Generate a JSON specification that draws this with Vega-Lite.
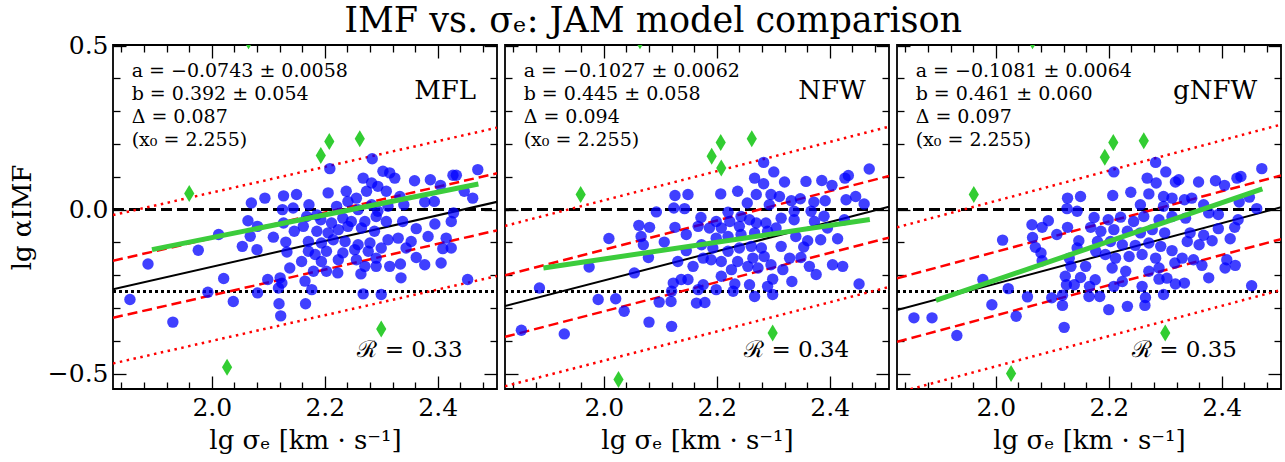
{
"$schema":"https://vega.github.io/schema/vega-lite/v6.json",
"background":"white",
"padding":{"left":8,"top":3,"right":0,"bottom":0},
"title":{"text":"IMF vs. σₑ: JAM model comparison","font":"DejaVu Serif","fontSize":35,"fontWeight":"normal","anchor":"middle","offset":-6,"dx":5,"color":"black"},
"spacing":8,
"bounds":"flush",
"datasets":{
"refs":[{"k":"zero","x":1.825,"y":0},{"k":"zero","x":2.505,"y":0},{"k":"chab","x":1.825,"y":-0.25},{"k":"chab","x":2.505,"y":-0.25}],
"lines":[
{"m":"MFL","k":"fit","x":1.825,"y":-0.2429},{"m":"MFL","k":"fit","x":2.505,"y":0.0237},
{"m":"MFL","k":"d1","x":1.825,"y":-0.1559},{"m":"MFL","k":"d1","x":2.505,"y":0.1107},
{"m":"MFL","k":"d2","x":1.825,"y":-0.3299},{"m":"MFL","k":"d2","x":2.505,"y":-0.0633},
{"m":"MFL","k":"o1","x":1.825,"y":-0.0167},{"m":"MFL","k":"o1","x":2.505,"y":0.2499},
{"m":"MFL","k":"o2","x":1.825,"y":-0.4691},{"m":"MFL","k":"o2","x":2.505,"y":-0.2025},
{"m":"MFL","k":"g","x":1.894,"y":-0.122},{"m":"MFL","k":"g","x":2.472,"y":0.078},
{"m":"NFW","k":"fit","x":1.825,"y":-0.2941},{"m":"NFW","k":"fit","x":2.505,"y":0.0086},
{"m":"NFW","k":"d1","x":1.825,"y":-0.2001},{"m":"NFW","k":"d1","x":2.505,"y":0.1026},
{"m":"NFW","k":"d2","x":1.825,"y":-0.3881},{"m":"NFW","k":"d2","x":2.505,"y":-0.0855},
{"m":"NFW","k":"o1","x":1.825,"y":-0.0497},{"m":"NFW","k":"o1","x":2.505,"y":0.2530},
{"m":"NFW","k":"o2","x":1.825,"y":-0.5385},{"m":"NFW","k":"o2","x":2.505,"y":-0.2359},
{"m":"NFW","k":"g","x":1.893,"y":-0.178},{"m":"NFW","k":"g","x":2.471,"y":-0.030},
{"m":"gNFW","k":"fit","x":1.825,"y":-0.3063},{"m":"gNFW","k":"fit","x":2.505,"y":0.0072},
{"m":"gNFW","k":"d1","x":1.825,"y":-0.2093},{"m":"gNFW","k":"d1","x":2.505,"y":0.1042},
{"m":"gNFW","k":"d2","x":1.825,"y":-0.4033},{"m":"gNFW","k":"d2","x":2.505,"y":-0.0899},
{"m":"gNFW","k":"o1","x":1.825,"y":-0.0541},{"m":"gNFW","k":"o1","x":2.505,"y":0.2594},
{"m":"gNFW","k":"o2","x":1.825,"y":-0.5585},{"m":"gNFW","k":"o2","x":2.505,"y":-0.2451},
{"m":"gNFW","k":"g","x":1.894,"y":-0.277},{"m":"gNFW","k":"g","x":2.472,"y":0.063}
],
"out":[
{"m":"MFL","x":2.065,"y":0.515},{"m":"MFL","x":1.960,"y":0.049},{"m":"MFL","x":2.193,"y":0.165},{"m":"MFL","x":2.208,"y":0.208},{"m":"MFL","x":2.262,"y":0.216},{"m":"MFL","x":2.300,"y":-0.364},{"m":"MFL","x":2.027,"y":-0.481},
{"m":"NFW","x":2.064,"y":0.515},{"m":"NFW","x":1.959,"y":0.046},{"m":"NFW","x":2.191,"y":0.163},{"m":"NFW","x":2.207,"y":0.205},{"m":"NFW","x":2.208,"y":0.127},{"m":"NFW","x":2.262,"y":0.216},{"m":"NFW","x":2.299,"y":-0.376},{"m":"NFW","x":2.026,"y":-0.518},
{"m":"gNFW","x":2.065,"y":0.515},{"m":"gNFW","x":1.961,"y":0.046},{"m":"gNFW","x":2.193,"y":0.160},{"m":"gNFW","x":2.208,"y":0.205},{"m":"gNFW","x":2.262,"y":0.210},{"m":"gNFW","x":2.300,"y":-0.376},{"m":"gNFW","x":2.027,"y":-0.500}
],
"stats":[
{"m":"MFL","x":1.858,"y":0.422,"t":"a = −0.0743 ± 0.0058"},{"m":"MFL","x":1.858,"y":0.354,"t":"b = 0.392 ± 0.054"},{"m":"MFL","x":1.858,"y":0.282,"t":"Δ = 0.087"},{"m":"MFL","x":1.858,"y":0.211,"t":"(x₀ = 2.255)"},
{"m":"NFW","x":1.858,"y":0.422,"t":"a = −0.1027 ± 0.0062"},{"m":"NFW","x":1.858,"y":0.354,"t":"b = 0.445 ± 0.058"},{"m":"NFW","x":1.858,"y":0.282,"t":"Δ = 0.094"},{"m":"NFW","x":1.858,"y":0.211,"t":"(x₀ = 2.255)"},
{"m":"gNFW","x":1.858,"y":0.422,"t":"a = −0.1081 ± 0.0064"},{"m":"gNFW","x":1.858,"y":0.354,"t":"b = 0.461 ± 0.060"},{"m":"gNFW","x":1.858,"y":0.282,"t":"Δ = 0.097"},{"m":"gNFW","x":1.858,"y":0.211,"t":"(x₀ = 2.255)"}
],
"names":[{"m":"MFL","x":2.468,"y":0.361,"t":"MFL"},{"m":"NFW","x":2.464,"y":0.361,"t":"NFW"},{"m":"gNFW","x":2.463,"y":0.361,"t":"gNFW"}],
"rs":[{"m":"MFL","x":2.444,"y":-0.427,"t":"ℛ = 0.33"},{"m":"NFW","x":2.4345,"y":-0.427,"t":"ℛ = 0.34"},{"m":"gNFW","x":2.427,"y":-0.427,"t":"ℛ = 0.35"}],
"mfl":[{"x":2.209,"y":0.125},{"x":2.284,"y":0.155},{"x":2.206,"y":0.051},{"x":2.070,"y":0.020},{"x":2.094,"y":0.035},{"x":2.127,"y":0.042},{"x":2.150,"y":0.046},{"x":2.125,"y":0.000},{"x":2.144,"y":0.005},{"x":2.172,"y":0.015},{"x":2.064,"y":-0.034},{"x":2.081,"y":-0.051},{"x":2.068,"y":-0.081},{"x":2.054,"y":-0.112},{"x":2.080,"y":-0.122},{"x":2.109,"y":-0.084},{"x":2.131,"y":-0.099},{"x":2.127,"y":-0.041},{"x":2.146,"y":-0.066},{"x":2.133,"y":-0.129},{"x":2.159,"y":-0.158},{"x":2.138,"y":-0.178},{"x":2.180,"y":-0.188},{"x":2.099,"y":-0.213},{"x":2.121,"y":-0.208},{"x":2.124,"y":-0.224},{"x":2.118,"y":-0.239},{"x":2.165,"y":-0.218},{"x":2.177,"y":-0.244},{"x":2.081,"y":-0.254},{"x":2.038,"y":-0.280},{"x":2.119,"y":-0.287},{"x":2.166,"y":-0.287},{"x":2.122,"y":-0.324},{"x":2.268,"y":-0.257},{"x":2.300,"y":-0.259},{"x":2.264,"y":-0.196},{"x":2.335,"y":-0.208},{"x":2.453,"y":-0.213},{"x":2.406,"y":-0.163},{"x":2.377,"y":-0.168},{"x":2.291,"y":-0.173},{"x":2.315,"y":-0.173},{"x":2.334,"y":-0.166},{"x":2.424,"y":-0.117},{"x":2.409,"y":-0.119},{"x":2.415,"y":-0.087},{"x":2.383,"y":-0.082},{"x":2.424,"y":-0.036},{"x":2.395,"y":-0.044},{"x":2.362,"y":-0.058},{"x":2.338,"y":-0.036},{"x":2.340,"y":0.015},{"x":2.377,"y":0.023},{"x":2.394,"y":0.025},{"x":2.428,"y":-0.010},{"x":2.462,"y":0.035},{"x":2.447,"y":0.056},{"x":2.471,"y":0.122},{"x":2.427,"y":0.105},{"x":2.433,"y":0.105},{"x":2.387,"y":0.091},{"x":2.405,"y":0.074},{"x":2.359,"y":0.088},{"x":2.333,"y":0.040},{"x":2.324,"y":0.096},{"x":2.315,"y":0.112},{"x":2.303,"y":0.117},{"x":2.268,"y":0.096},{"x":2.283,"y":0.081},{"x":2.294,"y":0.071},{"x":2.274,"y":0.056},{"x":2.309,"y":0.056},{"x":2.238,"y":0.056},{"x":2.256,"y":0.035},{"x":2.221,"y":0.010},{"x":2.241,"y":0.025},{"x":2.259,"y":0.000},{"x":2.294,"y":-0.005},{"x":2.312,"y":0.010},{"x":2.283,"y":0.015},{"x":2.193,"y":-0.031},{"x":2.212,"y":-0.041},{"x":2.232,"y":-0.026},{"x":2.247,"y":-0.036},{"x":2.271,"y":-0.036},{"x":2.291,"y":-0.021},{"x":2.309,"y":-0.036},{"x":2.186,"y":-0.066},{"x":2.206,"y":-0.071},{"x":2.224,"y":-0.061},{"x":2.241,"y":-0.051},{"x":2.265,"y":-0.056},{"x":2.288,"y":-0.066},{"x":2.171,"y":-0.097},{"x":2.194,"y":-0.102},{"x":2.215,"y":-0.092},{"x":2.236,"y":-0.097},{"x":2.259,"y":-0.107},{"x":2.280,"y":-0.102},{"x":2.312,"y":-0.092},{"x":2.330,"y":-0.087},{"x":2.353,"y":-0.097},{"x":2.344,"y":-0.117},{"x":2.300,"y":-0.117},{"x":2.277,"y":-0.127},{"x":2.253,"y":-0.122},{"x":2.232,"y":-0.132},{"x":2.203,"y":-0.127},{"x":2.183,"y":-0.137},{"x":2.194,"y":-0.158},{"x":2.224,"y":-0.153},{"x":2.256,"y":-0.153},{"x":2.291,"y":-0.148},{"x":2.362,"y":-0.146},{"x":2.203,"y":-0.188},{"x":2.223,"y":-0.193},{"x":2.271,"y":-0.173},{"x":2.171,"y":-0.127},{"x":2.162,"y":-0.051},{"x":2.168,"y":-0.021},{"x":2.186,"y":-0.016},{"x":1.855,"y":-0.274},{"x":1.887,"y":-0.166},{"x":1.931,"y":-0.343},{"x":1.976,"y":-0.124},{"x":2.012,"y":-0.076},{"x":1.993,"y":-0.252},{"x":2.021,"y":-0.210}],
"nfw":[{"x":2.283,"y":0.144},{"x":2.301,"y":0.115},{"x":2.267,"y":0.096},{"x":2.283,"y":0.079},{"x":2.320,"y":0.084},{"x":2.358,"y":0.086},{"x":2.386,"y":0.089},{"x":2.404,"y":0.074},{"x":2.427,"y":0.096},{"x":2.433,"y":0.104},{"x":2.470,"y":0.124},{"x":2.446,"y":0.040},{"x":2.429,"y":0.030},{"x":2.461,"y":0.017},{"x":2.207,"y":0.048},{"x":2.237,"y":0.056},{"x":2.126,"y":0.043},{"x":2.149,"y":0.046},{"x":2.124,"y":0.005},{"x":2.093,"y":-0.007},{"x":2.143,"y":0.003},{"x":2.220,"y":-0.008},{"x":2.254,"y":0.020},{"x":2.270,"y":0.046},{"x":2.296,"y":0.046},{"x":2.311,"y":0.040},{"x":2.293,"y":0.015},{"x":2.332,"y":0.027},{"x":2.348,"y":0.033},{"x":2.372,"y":0.023},{"x":2.392,"y":0.027},{"x":2.367,"y":-0.005},{"x":2.390,"y":-0.020},{"x":2.337,"y":-0.031},{"x":2.426,"y":-0.031},{"x":2.414,"y":-0.089},{"x":2.384,"y":-0.092},{"x":2.361,"y":-0.095},{"x":2.340,"y":-0.082},{"x":2.354,"y":-0.114},{"x":2.349,"y":-0.146},{"x":2.364,"y":-0.173},{"x":2.376,"y":-0.198},{"x":2.405,"y":-0.168},{"x":2.423,"y":-0.173},{"x":2.452,"y":-0.227},{"x":2.333,"y":-0.219},{"x":2.317,"y":-0.183},{"x":2.329,"y":-0.148},{"x":2.299,"y":-0.212},{"x":2.290,"y":-0.234},{"x":2.299,"y":-0.259},{"x":2.267,"y":-0.265},{"x":2.258,"y":-0.229},{"x":2.232,"y":-0.227},{"x":2.229,"y":-0.249},{"x":2.199,"y":-0.244},{"x":2.208,"y":-0.203},{"x":2.226,"y":-0.183},{"x":2.179,"y":-0.283},{"x":2.164,"y":-0.285},{"x":2.167,"y":-0.244},{"x":2.176,"y":-0.229},{"x":2.149,"y":-0.213},{"x":2.137,"y":-0.213},{"x":2.123,"y":-0.224},{"x":2.120,"y":-0.249},{"x":2.119,"y":-0.280},{"x":2.098,"y":-0.282},{"x":2.036,"y":-0.310},{"x":2.080,"y":-0.343},{"x":2.120,"y":-0.356},{"x":2.054,"y":-0.193},{"x":2.079,"y":-0.146},{"x":2.131,"y":-0.158},{"x":2.158,"y":-0.173},{"x":2.146,"y":-0.125},{"x":2.107,"y":-0.099},{"x":2.070,"y":-0.107},{"x":2.066,"y":-0.082},{"x":2.062,"y":-0.048},{"x":2.081,"y":-0.054},{"x":2.126,"y":-0.054},{"x":2.146,"y":-0.076},{"x":2.172,"y":-0.024},{"x":2.167,"y":-0.051},{"x":2.187,"y":-0.056},{"x":2.199,"y":-0.036},{"x":2.208,"y":-0.056},{"x":2.223,"y":-0.036},{"x":2.240,"y":-0.051},{"x":2.258,"y":-0.031},{"x":2.270,"y":-0.041},{"x":2.287,"y":-0.041},{"x":2.305,"y":-0.056},{"x":2.290,"y":-0.066},{"x":2.267,"y":-0.071},{"x":2.243,"y":-0.076},{"x":2.220,"y":-0.082},{"x":2.199,"y":-0.087},{"x":2.173,"y":-0.107},{"x":2.193,"y":-0.117},{"x":2.220,"y":-0.127},{"x":2.240,"y":-0.117},{"x":2.261,"y":-0.112},{"x":2.279,"y":-0.117},{"x":2.314,"y":-0.112},{"x":2.284,"y":-0.143},{"x":2.264,"y":-0.148},{"x":2.237,"y":-0.158},{"x":2.208,"y":-0.158},{"x":2.190,"y":-0.153},{"x":2.176,"y":-0.148},{"x":2.255,"y":-0.173},{"x":2.273,"y":-0.178},{"x":2.296,"y":-0.168},{"x":2.337,"y":-0.005},{"x":2.373,"y":-0.036},{"x":2.396,"y":-0.056},{"x":2.314,"y":-0.026},{"x":2.243,"y":-0.021},{"x":1.854,"y":-0.368},{"x":1.886,"y":-0.239},{"x":1.930,"y":-0.379},{"x":1.974,"y":-0.175},{"x":1.990,"y":-0.274},{"x":2.009,"y":-0.088},{"x":2.021,"y":-0.272}],
"gnfw":[{"x":2.283,"y":0.144},{"x":2.301,"y":0.115},{"x":2.268,"y":0.096},{"x":2.284,"y":0.081},{"x":2.318,"y":0.084},{"x":2.324,"y":0.091},{"x":2.359,"y":0.084},{"x":2.389,"y":0.088},{"x":2.405,"y":0.074},{"x":2.427,"y":0.096},{"x":2.434,"y":0.101},{"x":2.471,"y":0.125},{"x":2.449,"y":0.038},{"x":2.431,"y":0.023},{"x":2.462,"y":0.003},{"x":2.209,"y":0.115},{"x":2.207,"y":0.043},{"x":2.239,"y":0.053},{"x":2.127,"y":0.035},{"x":2.150,"y":0.040},{"x":2.126,"y":0.003},{"x":2.144,"y":-0.005},{"x":2.093,"y":-0.034},{"x":2.064,"y":-0.046},{"x":2.082,"y":-0.054},{"x":2.065,"y":-0.085},{"x":2.070,"y":-0.115},{"x":2.080,"y":-0.132},{"x":2.082,"y":-0.156},{"x":2.108,"y":-0.076},{"x":2.127,"y":-0.054},{"x":2.147,"y":-0.095},{"x":2.144,"y":-0.117},{"x":2.130,"y":-0.148},{"x":2.133,"y":-0.173},{"x":2.159,"y":-0.173},{"x":2.150,"y":-0.207},{"x":2.123,"y":-0.203},{"x":2.125,"y":-0.229},{"x":2.139,"y":-0.229},{"x":2.118,"y":-0.261},{"x":2.118,"y":-0.292},{"x":2.099,"y":-0.269},{"x":2.056,"y":-0.266},{"x":2.036,"y":-0.325},{"x":2.121,"y":-0.359},{"x":2.166,"y":-0.234},{"x":2.176,"y":-0.214},{"x":2.165,"y":-0.265},{"x":2.184,"y":-0.265},{"x":2.200,"y":-0.305},{"x":2.209,"y":-0.234},{"x":2.233,"y":-0.295},{"x":2.224,"y":-0.219},{"x":2.230,"y":-0.188},{"x":2.259,"y":-0.234},{"x":2.265,"y":-0.268},{"x":2.264,"y":-0.292},{"x":2.297,"y":-0.259},{"x":2.318,"y":-0.227},{"x":2.334,"y":-0.224},{"x":2.289,"y":-0.212},{"x":2.303,"y":-0.209},{"x":2.271,"y":-0.188},{"x":2.377,"y":-0.208},{"x":2.406,"y":-0.178},{"x":2.424,"y":-0.170},{"x":2.409,"y":-0.153},{"x":2.453,"y":-0.232},{"x":2.365,"y":-0.170},{"x":2.350,"y":-0.153},{"x":2.330,"y":-0.148},{"x":2.312,"y":-0.125},{"x":2.317,"y":-0.163},{"x":2.415,"y":-0.089},{"x":2.383,"y":-0.095},{"x":2.360,"y":-0.107},{"x":2.339,"y":-0.097},{"x":2.344,"y":-0.071},{"x":2.368,"y":-0.078},{"x":2.394,"y":-0.058},{"x":2.423,"y":-0.054},{"x":2.429,"y":-0.031},{"x":2.394,"y":-0.015},{"x":2.377,"y":-0.010},{"x":2.368,"y":0.015},{"x":2.347,"y":0.035},{"x":2.334,"y":0.030},{"x":2.312,"y":0.035},{"x":2.297,"y":0.040},{"x":2.271,"y":0.048},{"x":2.256,"y":0.015},{"x":2.297,"y":0.010},{"x":2.336,"y":-0.026},{"x":2.312,"y":-0.021},{"x":2.289,"y":-0.031},{"x":2.262,"y":-0.021},{"x":2.244,"y":-0.036},{"x":2.221,"y":-0.023},{"x":2.199,"y":-0.031},{"x":2.174,"y":-0.024},{"x":2.168,"y":-0.054},{"x":2.186,"y":-0.066},{"x":2.209,"y":-0.061},{"x":2.233,"y":-0.066},{"x":2.256,"y":-0.071},{"x":2.277,"y":-0.061},{"x":2.299,"y":-0.071},{"x":2.180,"y":-0.097},{"x":2.203,"y":-0.097},{"x":2.224,"y":-0.107},{"x":2.247,"y":-0.109},{"x":2.271,"y":-0.102},{"x":2.292,"y":-0.112},{"x":2.194,"y":-0.137},{"x":2.212,"y":-0.148},{"x":2.236,"y":-0.143},{"x":2.259,"y":-0.137},{"x":2.283,"y":-0.148},{"x":2.206,"y":-0.178},{"x":2.289,"y":-0.178},{"x":2.177,"y":-0.127},{"x":1.855,"y":-0.330},{"x":1.887,"y":-0.330},{"x":1.931,"y":-0.384},{"x":1.977,"y":-0.213},{"x":1.993,"y":-0.290},{"x":2.012,"y":-0.093},{"x":2.022,"y":-0.241}]
},
"hconcat":[
{"width":384,"height":344,
"encoding":{"x":{"field":"x","type":"quantitative","scale":{"domain":[1.825,2.505],"nice":false,"zero":false},"axis":null},"y":{"field":"y","type":"quantitative","scale":{"domain":[-0.547,0.502],"nice":false,"zero":false},"axis":null}},
"layer":[
{"data":{"name":"refs"},"transform":[{"filter":"datum.k=='zero'"}],"mark":{"type":"line","color":"black","strokeWidth":3,"strokeDash":[11,5]},
"encoding":{"x":{"field":"x","type":"quantitative","scale":{"domain":[1.825,2.505],"nice":false,"zero":false},"axis":{"orient":"top","values":[1.84,1.88,1.92,1.96,2.0,2.04,2.08,2.12,2.16,2.2,2.24,2.28,2.32,2.36,2.4,2.44,2.48],"tickSize":{"condition":{"test":"abs(datum.value*5-round(datum.value*5))<0.001","value":-13},"value":-7},"labels":false,"title":null}},"y":{"field":"y","type":"quantitative","scale":{"domain":[-0.547,0.502],"nice":false,"zero":false},"axis":{"orient":"right","values":[-0.5,-0.4,-0.3,-0.2,-0.1,0,0.1,0.2,0.3,0.4,0.5],"tickSize":{"condition":{"test":"abs(datum.value*2-round(datum.value*2))<0.001","value":-13},"value":-7},"labels":false,"title":null}}}},
{"data":{"name":"refs"},"transform":[{"filter":"datum.k=='chab'"}],"mark":{"type":"line","color":"black","strokeWidth":3,"strokeDash":[3,3]}},
{"data":{"name":"lines"},"transform":[{"filter":"datum.m=='MFL' && (datum.k=='o1' || datum.k=='o2')"}],"mark":{"type":"line","color":"#ff0000","strokeWidth":2.5,"strokeDash":[2.5,4.5],"clip":true},"encoding":{"detail":{"field":"k"}}},
{"data":{"name":"lines"},"transform":[{"filter":"datum.m=='MFL' && (datum.k=='d1' || datum.k=='d2')"}],"mark":{"type":"line","color":"#ff0000","strokeWidth":2.5,"strokeDash":[10,5],"clip":true},"encoding":{"detail":{"field":"k"}}},
{"data":{"name":"lines"},"transform":[{"filter":"datum.m=='MFL' && datum.k=='fit'"}],"mark":{"type":"line","color":"black","strokeWidth":2,"clip":true}},
{"data":{"name":"mfl"},"mark":{"type":"circle","size":130,"color":"#0000ff","opacity":0.75},
"encoding":{"x":{"field":"x","type":"quantitative","scale":{"domain":[1.825,2.505],"nice":false,"zero":false},"axis":{"orient":"bottom","values":[1.84,1.88,1.92,1.96,2.0,2.04,2.08,2.12,2.16,2.2,2.24,2.28,2.32,2.36,2.4,2.44,2.48],"tickSize":{"condition":{"test":"abs(datum.value*5-round(datum.value*5))<0.001","value":-13},"value":-7},"labelPadding":19,"titlePadding":1,"labelExpr":"abs(datum.value*5-round(datum.value*5))<0.001 ? format(datum.value,'.1f') : ''","title":"lg σₑ [km · s⁻¹]"}},"y":{"field":"y","type":"quantitative","scale":{"domain":[-0.547,0.502],"nice":false,"zero":false},"axis":{"orient":"left","values":[-0.5,-0.4,-0.3,-0.2,-0.1,0,0.1,0.2,0.3,0.4,0.5],"tickSize":{"condition":{"test":"abs(datum.value*2-round(datum.value*2))<0.001","value":-13},"value":-7},"labelPadding":18,"titlePadding":12,"labelExpr":"abs(datum.value*2-round(datum.value*2))<0.001 ? format(datum.value,'.1f') : ''","title":"lg αIMF"}}}},
{"data":{"name":"out"},"transform":[{"filter":"datum.m=='MFL'"}],"mark":{"type":"point","shape":"M0,-1L0.6,0L0,1L-0.6,0Z","filled":true,"size":289,"color":"#32cd32","opacity":1,"clip":true}},
{"data":{"name":"lines"},"transform":[{"filter":"datum.m=='MFL' && datum.k=='g'"}],"mark":{"type":"line","color":"#3ccc3c","strokeWidth":5}},
{"data":{"name":"stats"},"transform":[{"filter":"datum.m=='MFL'"}],"mark":{"type":"text","align":"left","baseline":"middle","fontSize":19,"font":"DejaVu Serif","color":"black"},"encoding":{"text":{"field":"t"}}},
{"data":{"name":"names"},"transform":[{"filter":"datum.m=='MFL'"}],"mark":{"type":"text","align":"right","baseline":"middle","fontSize":26,"font":"DejaVu Serif","color":"black"},"encoding":{"text":{"field":"t"}}},
{"data":{"name":"rs"},"transform":[{"filter":"datum.m=='MFL'"}],"mark":{"type":"text","align":"right","baseline":"middle","fontSize":23,"font":"DejaVu Serif","color":"black"},"encoding":{"text":{"field":"t"}}}
],
"resolve":{"axis":{"x":"independent","y":"independent"}}},
{"width":384,"height":344,
"encoding":{"x":{"field":"x","type":"quantitative","scale":{"domain":[1.825,2.505],"nice":false,"zero":false},"axis":null},"y":{"field":"y","type":"quantitative","scale":{"domain":[-0.547,0.502],"nice":false,"zero":false},"axis":null}},
"layer":[
{"data":{"name":"refs"},"transform":[{"filter":"datum.k=='zero'"}],"mark":{"type":"line","color":"black","strokeWidth":3,"strokeDash":[11,5]},
"encoding":{"x":{"field":"x","type":"quantitative","scale":{"domain":[1.825,2.505],"nice":false,"zero":false},"axis":{"orient":"top","values":[1.84,1.88,1.92,1.96,2.0,2.04,2.08,2.12,2.16,2.2,2.24,2.28,2.32,2.36,2.4,2.44,2.48],"tickSize":{"condition":{"test":"abs(datum.value*5-round(datum.value*5))<0.001","value":-13},"value":-7},"labels":false,"title":null}},"y":{"field":"y","type":"quantitative","scale":{"domain":[-0.547,0.502],"nice":false,"zero":false},"axis":{"orient":"right","values":[-0.5,-0.4,-0.3,-0.2,-0.1,0,0.1,0.2,0.3,0.4,0.5],"tickSize":{"condition":{"test":"abs(datum.value*2-round(datum.value*2))<0.001","value":-13},"value":-7},"labels":false,"title":null}}}},
{"data":{"name":"refs"},"transform":[{"filter":"datum.k=='chab'"}],"mark":{"type":"line","color":"black","strokeWidth":3,"strokeDash":[3,3]}},
{"data":{"name":"lines"},"transform":[{"filter":"datum.m=='NFW' && (datum.k=='o1' || datum.k=='o2')"}],"mark":{"type":"line","color":"#ff0000","strokeWidth":2.5,"strokeDash":[2.5,4.5],"clip":true},"encoding":{"detail":{"field":"k"}}},
{"data":{"name":"lines"},"transform":[{"filter":"datum.m=='NFW' && (datum.k=='d1' || datum.k=='d2')"}],"mark":{"type":"line","color":"#ff0000","strokeWidth":2.5,"strokeDash":[10,5],"clip":true},"encoding":{"detail":{"field":"k"}}},
{"data":{"name":"lines"},"transform":[{"filter":"datum.m=='NFW' && datum.k=='fit'"}],"mark":{"type":"line","color":"black","strokeWidth":2,"clip":true}},
{"data":{"name":"nfw"},"mark":{"type":"circle","size":130,"color":"#0000ff","opacity":0.75},
"encoding":{"x":{"field":"x","type":"quantitative","scale":{"domain":[1.825,2.505],"nice":false,"zero":false},"axis":{"orient":"bottom","values":[1.84,1.88,1.92,1.96,2.0,2.04,2.08,2.12,2.16,2.2,2.24,2.28,2.32,2.36,2.4,2.44,2.48],"tickSize":{"condition":{"test":"abs(datum.value*5-round(datum.value*5))<0.001","value":-13},"value":-7},"labelPadding":19,"titlePadding":1,"labelExpr":"abs(datum.value*5-round(datum.value*5))<0.001 ? format(datum.value,'.1f') : ''","title":"lg σₑ [km · s⁻¹]"}},"y":{"field":"y","type":"quantitative","scale":{"domain":[-0.547,0.502],"nice":false,"zero":false},"axis":{"orient":"left","values":[-0.5,-0.4,-0.3,-0.2,-0.1,0,0.1,0.2,0.3,0.4,0.5],"tickSize":{"condition":{"test":"abs(datum.value*2-round(datum.value*2))<0.001","value":-13},"value":-7},"labels":false,"title":null}}}},
{"data":{"name":"out"},"transform":[{"filter":"datum.m=='NFW'"}],"mark":{"type":"point","shape":"M0,-1L0.6,0L0,1L-0.6,0Z","filled":true,"size":289,"color":"#32cd32","opacity":1,"clip":true}},
{"data":{"name":"lines"},"transform":[{"filter":"datum.m=='NFW' && datum.k=='g'"}],"mark":{"type":"line","color":"#3ccc3c","strokeWidth":5}},
{"data":{"name":"stats"},"transform":[{"filter":"datum.m=='NFW'"}],"mark":{"type":"text","align":"left","baseline":"middle","fontSize":19,"font":"DejaVu Serif","color":"black"},"encoding":{"text":{"field":"t"}}},
{"data":{"name":"names"},"transform":[{"filter":"datum.m=='NFW'"}],"mark":{"type":"text","align":"right","baseline":"middle","fontSize":26,"font":"DejaVu Serif","color":"black"},"encoding":{"text":{"field":"t"}}},
{"data":{"name":"rs"},"transform":[{"filter":"datum.m=='NFW'"}],"mark":{"type":"text","align":"right","baseline":"middle","fontSize":23,"font":"DejaVu Serif","color":"black"},"encoding":{"text":{"field":"t"}}}
],
"resolve":{"axis":{"x":"independent","y":"independent"}}},
{"width":384,"height":344,
"encoding":{"x":{"field":"x","type":"quantitative","scale":{"domain":[1.825,2.505],"nice":false,"zero":false},"axis":null},"y":{"field":"y","type":"quantitative","scale":{"domain":[-0.547,0.502],"nice":false,"zero":false},"axis":null}},
"layer":[
{"data":{"name":"refs"},"transform":[{"filter":"datum.k=='zero'"}],"mark":{"type":"line","color":"black","strokeWidth":3,"strokeDash":[11,5]},
"encoding":{"x":{"field":"x","type":"quantitative","scale":{"domain":[1.825,2.505],"nice":false,"zero":false},"axis":{"orient":"top","values":[1.84,1.88,1.92,1.96,2.0,2.04,2.08,2.12,2.16,2.2,2.24,2.28,2.32,2.36,2.4,2.44,2.48],"tickSize":{"condition":{"test":"abs(datum.value*5-round(datum.value*5))<0.001","value":-13},"value":-7},"labels":false,"title":null}},"y":{"field":"y","type":"quantitative","scale":{"domain":[-0.547,0.502],"nice":false,"zero":false},"axis":{"orient":"right","values":[-0.5,-0.4,-0.3,-0.2,-0.1,0,0.1,0.2,0.3,0.4,0.5],"tickSize":{"condition":{"test":"abs(datum.value*2-round(datum.value*2))<0.001","value":-13},"value":-7},"labels":false,"title":null}}}},
{"data":{"name":"refs"},"transform":[{"filter":"datum.k=='chab'"}],"mark":{"type":"line","color":"black","strokeWidth":3,"strokeDash":[3,3]}},
{"data":{"name":"lines"},"transform":[{"filter":"datum.m=='gNFW' && (datum.k=='o1' || datum.k=='o2')"}],"mark":{"type":"line","color":"#ff0000","strokeWidth":2.5,"strokeDash":[2.5,4.5],"clip":true},"encoding":{"detail":{"field":"k"}}},
{"data":{"name":"lines"},"transform":[{"filter":"datum.m=='gNFW' && (datum.k=='d1' || datum.k=='d2')"}],"mark":{"type":"line","color":"#ff0000","strokeWidth":2.5,"strokeDash":[10,5],"clip":true},"encoding":{"detail":{"field":"k"}}},
{"data":{"name":"lines"},"transform":[{"filter":"datum.m=='gNFW' && datum.k=='fit'"}],"mark":{"type":"line","color":"black","strokeWidth":2,"clip":true}},
{"data":{"name":"gnfw"},"mark":{"type":"circle","size":130,"color":"#0000ff","opacity":0.75},
"encoding":{"x":{"field":"x","type":"quantitative","scale":{"domain":[1.825,2.505],"nice":false,"zero":false},"axis":{"orient":"bottom","values":[1.84,1.88,1.92,1.96,2.0,2.04,2.08,2.12,2.16,2.2,2.24,2.28,2.32,2.36,2.4,2.44,2.48],"tickSize":{"condition":{"test":"abs(datum.value*5-round(datum.value*5))<0.001","value":-13},"value":-7},"labelPadding":19,"titlePadding":1,"labelExpr":"abs(datum.value*5-round(datum.value*5))<0.001 ? format(datum.value,'.1f') : ''","title":"lg σₑ [km · s⁻¹]"}},"y":{"field":"y","type":"quantitative","scale":{"domain":[-0.547,0.502],"nice":false,"zero":false},"axis":{"orient":"left","values":[-0.5,-0.4,-0.3,-0.2,-0.1,0,0.1,0.2,0.3,0.4,0.5],"tickSize":{"condition":{"test":"abs(datum.value*2-round(datum.value*2))<0.001","value":-13},"value":-7},"labels":false,"title":null}}}},
{"data":{"name":"out"},"transform":[{"filter":"datum.m=='gNFW'"}],"mark":{"type":"point","shape":"M0,-1L0.6,0L0,1L-0.6,0Z","filled":true,"size":289,"color":"#32cd32","opacity":1,"clip":true}},
{"data":{"name":"lines"},"transform":[{"filter":"datum.m=='gNFW' && datum.k=='g'"}],"mark":{"type":"line","color":"#3ccc3c","strokeWidth":5}},
{"data":{"name":"stats"},"transform":[{"filter":"datum.m=='gNFW'"}],"mark":{"type":"text","align":"left","baseline":"middle","fontSize":19,"font":"DejaVu Serif","color":"black"},"encoding":{"text":{"field":"t"}}},
{"data":{"name":"names"},"transform":[{"filter":"datum.m=='gNFW'"}],"mark":{"type":"text","align":"right","baseline":"middle","fontSize":26,"font":"DejaVu Serif","color":"black"},"encoding":{"text":{"field":"t"}}},
{"data":{"name":"rs"},"transform":[{"filter":"datum.m=='gNFW'"}],"mark":{"type":"text","align":"right","baseline":"middle","fontSize":23,"font":"DejaVu Serif","color":"black"},"encoding":{"text":{"field":"t"}}}
],
"resolve":{"axis":{"x":"independent","y":"independent"}}}
],
"config":{
"view":{"stroke":"black","strokeWidth":1.8},
"axis":{"domain":false,"grid":false,"tickColor":"black","tickWidth":1.3,"labelFont":"DejaVu Serif","labelFontSize":25,"labelColor":"black","labelPadding":5,"labelOverlap":false,"titleFont":"DejaVu Serif","titleFontSize":26,"titleFontWeight":"normal","titleColor":"black","titlePadding":6}
}
}
